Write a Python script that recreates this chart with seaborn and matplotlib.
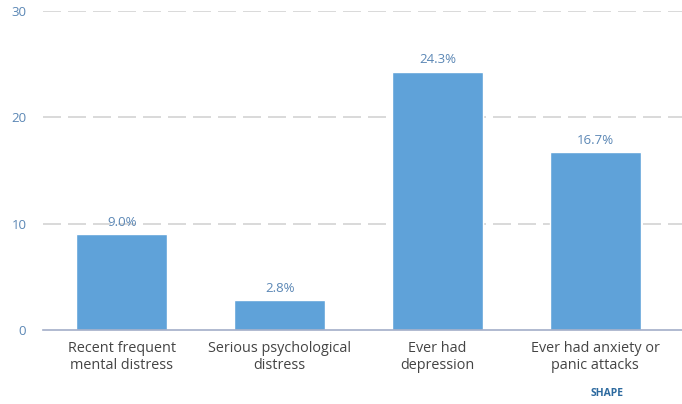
import matplotlib
matplotlib.use("Agg")
import matplotlib.pyplot as plt
import seaborn as sns
import pandas as pd

categories = ["Recent frequent\nmental distress", "Serious psychological\ndistress",
              "Ever had\ndepression", "Ever had anxiety or\npanic attacks"]
values = [9.0, 2.8, 24.3, 16.7]
yticks = [0, 10, 20, 30]

df = pd.DataFrame({"category": categories, "value": values})

sns.set_style("white")
plt.rcParams['font.family'] = ['Open Sans', 'DejaVu Sans']

fig = plt.figure(figsize=(6.82, 4.04), dpi=100)
ax = fig.add_axes([0.063, 0.183, 0.937, 0.79])

sns.barplot(data=df, x="category", y="value", color="#5fa2d9", saturation=1,
            width=0.575, ax=ax)

ax.set_ylim(0, 30)
ax.set_xlim(-0.5, 3.55)
ax.set_yticks(yticks)
ax.set_yticklabels([str(t) for t in yticks], color="#5b87b5", fontsize=9.5)
ax.tick_params(axis="x", labelsize=10.4, colors="#444444", length=0, pad=8)
ax.tick_params(axis="y", length=0, pad=12)
ax.set_xlabel("")
ax.set_ylabel("")

# dashed guide lines behind the bars
for y in yticks[1:]:
    ax.axhline(y, color="#d3d3d3", linestyle=(0, (10.8, 4.2)), linewidth=1.2, zorder=0)

for s in ["top", "right", "left"]:
    ax.spines[s].set_visible(False)
ax.spines["bottom"].set_color("#a3aec8")
ax.spines["bottom"].set_linewidth(1.2)

for i, v in enumerate(values):
    ax.text(i, v + 0.5, f"{v:.1f}%", ha="center", va="bottom", color="#5b87b5", fontsize=9.5)

fig.text(0.89, 0.025, "SHAPE", ha="center", va="center", color="#2d6a9f",
         fontsize=7.5, fontweight="bold")

fig.savefig("out.png", dpi=100)
